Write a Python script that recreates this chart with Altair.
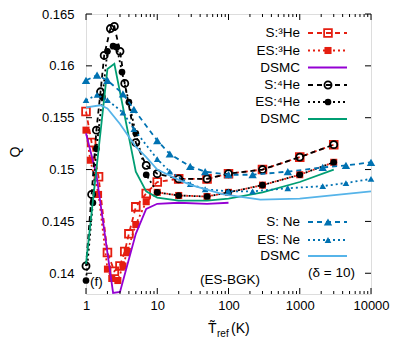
import altair as alt
import pandas as pd

# ---------------- data ----------------
S3HE_X = [1, 1.2, 1.5, 2, 2.5, 3, 3.5, 4, 5, 7, 10, 20, 50, 100, 300, 1000, 3000]
S3HE_Q = [0.1556, 0.1526, 0.1493, 0.1420, 0.1402, 0.1407, 0.1421, 0.1438, 0.1464, 0.1477,
          0.1488, 0.1491, 0.1491, 0.1496, 0.1500, 0.1512, 0.1524]

ES3HE_X = [1, 1.15, 1.5, 2, 2.3, 2.8, 3.3, 3.8, 5, 7, 10, 20, 50, 100, 300, 1000, 3000]
ES3HE_Q = [0.1538, 0.1509, 0.1476, 0.1404, 0.1395, 0.1393, 0.1407, 0.1421, 0.1447, 0.1469,
           0.1478, 0.1475, 0.1474, 0.1478, 0.1485, 0.1495, 0.1507]

DSMC3_X = [1, 1.4, 2.4, 3, 5, 7, 10, 20, 50, 100]
DSMC3_Q = [0.1535, 0.1495, 0.1381, 0.1382, 0.1438, 0.1462, 0.1467, 0.1468, 0.1467, 0.1468]

S4HE_X = [1, 1.2, 1.4, 1.6, 1.8, 2.2, 2.5, 3, 3.5, 5, 7, 10, 20, 50, 100, 300, 1000, 3000]
S4HE_Q = [0.1407, 0.1476, 0.1538, 0.1575, 0.1610, 0.1636, 0.1638, 0.1614, 0.1583, 0.1526,
          0.1504, 0.1496, 0.1491, 0.1491, 0.1496, 0.1500, 0.1512, 0.1524]

ES4HE_X = [1, 1.25, 1.4, 1.7, 2, 2.4, 2.7, 3.2, 4, 5, 7, 10, 20, 50, 100, 300, 1000, 3000]
ES4HE_Q = [0.1393, 0.1468, 0.1520, 0.1570, 0.1614, 0.1619, 0.1618, 0.1594, 0.1565, 0.1535,
           0.1495, 0.1478, 0.1475, 0.1474, 0.1478, 0.1485, 0.1495, 0.1507]

DSMC4_X = [1, 2, 2.5, 5, 7, 10, 20, 50, 100, 300, 1000, 3000]
DSMC4_Q = [0.1409, 0.1597, 0.1602, 0.1498, 0.1479, 0.1473, 0.1470, 0.1470, 0.1472, 0.1478,
           0.1488, 0.1500]

NE_X = [1, 1.43, 2, 3.3, 4.7, 10, 15, 29, 47, 100, 218, 680, 2100, 4450, 10000]
SNE_Q = [0.1586, 0.1591, 0.1586, 0.1573, 0.1558, 0.1528, 0.1515, 0.1503, 0.1498, 0.1495,
         0.1495, 0.1498, 0.1502, 0.1504, 0.1507]
ESNE_Q = [0.1567, 0.1572, 0.1567, 0.1555, 0.1539, 0.1510, 0.1498, 0.1486, 0.1481, 0.1479,
          0.1479, 0.1482, 0.1484, 0.1487, 0.1491]

DSMCNE_X = [1, 1.6, 2, 3, 5, 7, 10, 20, 30, 85, 280, 1000, 10000]
DSMCNE_Q = [0.1560, 0.1562, 0.1559, 0.1544, 0.1522, 0.1512, 0.1500, 0.1490, 0.1485, 0.1476,
            0.1471, 0.1472, 0.1479]

X_TICKS = [1, 10, 100, 1000, 10000]
X_MINOR = [m * 10 ** k for k in range(4) for m in range(2, 10)]
Y_TICKS = [0.14, 0.145, 0.15, 0.155, 0.16, 0.165]

LEGEND1 = ["S:³He", "ES:³He", "DSMC", "S:⁴He", "ES:⁴He", "DSMC"]
LEGEND2 = ["S: Ne", "ES: Ne", "DSMC"]

# ---------------- styling ----------------
FONT = "Liberation Sans"
W, H = 285, 280
TOP = 6                  # plot top sits at page y = 8 + TOP
PT = 8 + TOP
RED, PURPLE, BLACK, GREEN, BLUE, SKY = "#e51e10", "#9400d3", "#000000", "#009e73", "#0072b2", "#56b4e9"
DASH, DOT, SOLID = [5, 4], [2, 3], []

xscale = alt.Scale(type="log", domain=[1, 10000], nice=False)
yscale = alt.Scale(domain=[0.138, 0.165], nice=False, zero=False)

X = alt.X("x:Q", scale=xscale, title=None,
          axis=alt.Axis(values=X_TICKS, format="d", ticks=False, domain=False, grid=False,
                        labelFont=FONT, labelFontSize=13, labelColor="black", labelPadding=5,
                        labelFlush=False, title=None))
Y = alt.Y("y:Q", scale=yscale, title=None,
          axis=alt.Axis(values=Y_TICKS, format="~g", ticks=False, domain=False, grid=False,
                        labelFont=FONT, labelFontSize=13, labelColor="black", labelPadding=12,
                        labelFlush=False, title=None))

dummy = pd.DataFrame({"a": [0]})


def series(xs, qs, color, dash, shape=None, filled=False, size=50):
    df = pd.DataFrame({"x": xs, "y": qs})
    base = alt.Chart(df).encode(x=X, y=Y)
    layers = [base.mark_line(color=color, strokeDash=dash, strokeWidth=1.8)]
    if shape:
        layers.append(base.mark_point(shape=shape, filled=filled, color=color, size=size,
                                      strokeWidth=1.8, opacity=1,
                                      fill=color if filled else "transparent"))
    return layers


def legend_row(label, page_y, color, dash, shape=None, filled=False, size=50):
    y = page_y - PT
    d = alt.Chart(dummy)
    out = [
        d.mark_text(align="right", baseline="middle", font=FONT, fontSize=13.5, color="black")
         .encode(x=alt.value(214), y=alt.value(y), text=alt.value(label)),
        d.mark_rule(color=color, strokeDash=dash, strokeWidth=1.8)
         .encode(x=alt.value(222), x2=alt.value(261), y=alt.value(y)),
    ]
    if shape:
        out.append(d.mark_point(shape=shape, filled=filled, color=color, size=size,
                                strokeWidth=1.8, opacity=1,
                                fill=color if filled else "transparent")
                   .encode(x=alt.value(242), y=alt.value(y)))
    return out


layers = []
layers += series(S3HE_X, S3HE_Q, RED, DASH, "square", False, 60)
layers += series(ES3HE_X, ES3HE_Q, RED, DOT, "square", True, 50)
layers += series(DSMC3_X, DSMC3_Q, PURPLE, SOLID)
layers += series(S4HE_X, S4HE_Q, BLACK, DASH, "circle", False, 50)
layers += series(ES4HE_X, ES4HE_Q, BLACK, DOT, "circle", True, 45)
layers += series(DSMC4_X, DSMC4_Q, GREEN, SOLID)
layers += series(NE_X, SNE_Q, BLUE, DASH, "triangle-up", True, 70)
layers += series(NE_X, ESNE_Q, BLUE, DOT, "triangle-up", True, 45)
layers += series(DSMCNE_X, DSMCNE_Q, SKY, SOLID)

# ticks (inward, mirrored)
xt = alt.Chart(pd.DataFrame({"x": X_TICKS}))
xm = alt.Chart(pd.DataFrame({"x": X_MINOR}))
yt = alt.Chart(pd.DataFrame({"y": Y_TICKS}))
layers += [
    xt.mark_rule(color="black", strokeWidth=1).encode(x=X, y=alt.value(H), y2=alt.value(H - 6)),
    xt.mark_rule(color="black", strokeWidth=1).encode(x=X, y=alt.value(0), y2=alt.value(6)),
    xm.mark_rule(color="black", strokeWidth=1).encode(x=X, y=alt.value(H), y2=alt.value(H - 3)),
    xm.mark_rule(color="black", strokeWidth=1).encode(x=X, y=alt.value(0), y2=alt.value(3)),
    yt.mark_rule(color="black", strokeWidth=1).encode(y=Y, x=alt.value(0), x2=alt.value(6)),
    yt.mark_rule(color="black", strokeWidth=1).encode(y=Y, x=alt.value(W), x2=alt.value(W - 6)),
]

# legends (page y positions of rows)
l1y = [33, 50.5, 67.5, 85, 102, 119]
layers += legend_row(LEGEND1[0], l1y[0], RED, DASH, "square", False, 60)
layers += legend_row(LEGEND1[1], l1y[1], RED, DOT, "square", True, 50)
layers += legend_row(LEGEND1[2], l1y[2], PURPLE, SOLID)
layers += legend_row(LEGEND1[3], l1y[3], BLACK, DASH, "circle", False, 50)
layers += legend_row(LEGEND1[4], l1y[4], BLACK, DOT, "circle", True, 45)
layers += legend_row(LEGEND1[5], l1y[5], GREEN, SOLID)
l2y = [222, 240, 256]
layers += legend_row(LEGEND2[0], l2y[0], BLUE, DASH, "triangle-up", True, 70)
layers += legend_row(LEGEND2[1], l2y[1], BLUE, DOT, "triangle-up", True, 45)
layers += legend_row(LEGEND2[2], l2y[2], SKY, SOLID)

d = alt.Chart(dummy)


def txt(s, x, page_y, size=13.5, align="left", baseline="middle", angle=0):
    return d.mark_text(align=align, baseline=baseline, font=FONT, fontSize=size,
                       color="black", angle=angle).encode(
        x=alt.value(x), y=alt.value(page_y - PT), text=alt.value(s))


layers += [
    txt("(δ = 10)", 245.5, 273, align="center"),
    txt("(ES-BGK)", 174, 280, align="right"),
    txt("(f)", 4, 282),
    txt("Q", -70, 152, size=14, align="center", angle=270),
    txt("T\u0303", 122, 333, size=14, baseline="alphabetic"),
    txt("ref", 131, 337, size=10, baseline="alphabetic"),
    txt("(K)", 145, 333, size=14, baseline="alphabetic"),
]

chart = alt.layer(*layers).properties(
    width=W, height=H,
    autosize=alt.AutoSizeParams(type="none"),
    padding={"left": 78, "top": TOP, "right": 20, "bottom": 48},
).configure_view(stroke="black", strokeWidth=1.2).configure(background="white")

chart.save("out.html", embed_options={"renderer": "svg", "actions": False})
